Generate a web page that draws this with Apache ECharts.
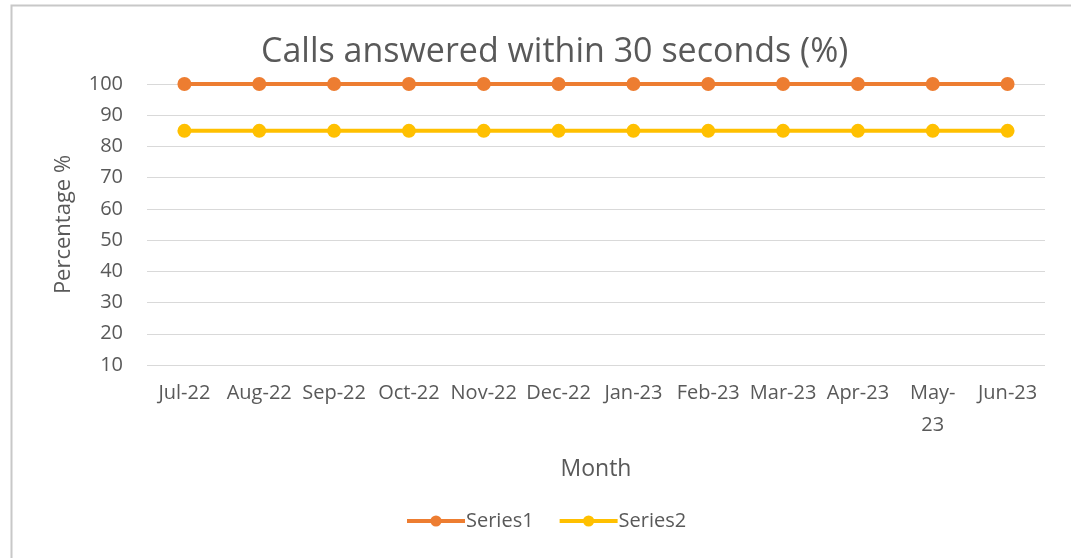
<!DOCTYPE html>
<html><head><meta charset="utf-8">
<script src="https://cdn.jsdelivr.net/npm/echarts@6/dist/echarts.min.js"></script>
<style>html,body{margin:0;padding:0;background:#fff}#c{width:1071px;height:558px}</style>
</head><body><div id="c"></div>
<script>
const categories = ['Jul-22','Aug-22','Sep-22','Oct-22','Nov-22','Dec-22','Jan-23','Feb-23','Mar-23','Apr-23','May-23','Jun-23'];
const series1 = [100,100,100,100,100,100,100,100,100,100,100,100];
const series2 = [85,85,85,85,85,85,85,85,85,85,85,85];
const yTicks = {min: 10, max: 100, interval: 10};
const FONT = 'Open Sans';
const chart = echarts.init(document.getElementById('c'), null, {renderer: 'canvas'});
chart.setOption({
  animation: false,
  textStyle: {fontFamily: FONT},
  graphic: [{type: 'rect', shape: {x: 11.5, y: 5.5, width: 1200, height: 700}, style: {fill: 'none', stroke: '#c8c8c8', lineWidth: 2}, z: -1}],
  title: {text: 'Calls answered within 30 seconds (%)', left: 256, top: 30,
    textStyle: {fontFamily: FONT, fontSize: 34, fontWeight: 'normal', color: '#595959'}},
  grid: {left: 147, right: 26, top: 84, bottom: 193},
  legend: {top: 506, left: 400, itemWidth: 58, itemHeight: 14, itemGap: 24,
    lineStyle: {width: 4},
    textStyle: {fontFamily: FONT, fontSize: 20, color: '#595959', padding: [0,0,0,-4]},
    data: ['Series1', 'Series2']},
  xAxis: {type: 'category', data: categories, boundaryGap: true,
    name: 'Month', nameLocation: 'middle', nameGap: 93,
    nameTextStyle: {fontFamily: FONT, fontSize: 23, color: '#595959'},
    axisLine: {show: false}, axisTick: {show: false},
    axisLabel: {interval: 0, fontFamily: FONT, fontSize: 20, color: '#595959', margin: 12, lineHeight: 32,
      formatter: v => v === 'May-23' ? 'May-\n23' : v}},
  yAxis: {type: 'value', min: yTicks.min, max: yTicks.max, interval: yTicks.interval,
    name: 'Percentage %', nameLocation: 'middle', nameGap: 72,
    nameTextStyle: {fontFamily: FONT, fontSize: 22, color: '#595959'},
    axisLine: {show: false}, axisTick: {show: false},
    axisLabel: {fontFamily: FONT, fontSize: 20, color: '#595959', margin: 24},
    splitLine: {lineStyle: {color: '#d9d9d9', width: 1}}},
  series: [
    {name: 'Series1', type: 'line', data: series1, symbol: 'circle', symbolSize: 14,
      lineStyle: {color: '#ED7D31', width: 4}, itemStyle: {color: '#ED7D31'}},
    {name: 'Series2', type: 'line', data: series2, symbol: 'circle', symbolSize: 14,
      lineStyle: {color: '#FFC000', width: 4}, itemStyle: {color: '#FFC000'}}
  ]
});
</script></body></html>
